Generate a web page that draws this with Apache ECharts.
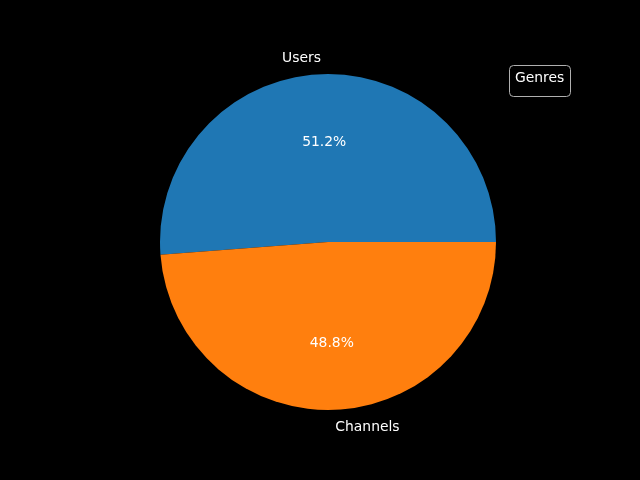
<!DOCTYPE html>
<html>
<head>
<meta charset="utf-8">
<script src="https://cdn.jsdelivr.net/npm/echarts@6/dist/echarts.min.js"></script>
<style>
html, body { margin: 0; padding: 0; background: #000; }
#myChart { width: 640px; height: 480px; }
</style>
</head>
<body>
<div id="myChart"></div>
<script>
var genres = ['Users', 'Channels'];
var counts = [512, 488];
var colors = ['#1f77b4', '#ff7f0e'];

var total = counts[0] + counts[1];
var R = 168;
var center = [328, 242];
var labelCenter = [328, 243];
var fontFam = 'DejaVu Sans';

var pieData = genres.map(function (g, i) {
    return { name: g, value: counts[i], itemStyle: { color: colors[i] } };
});

// matplotlib style: name labels left/right aligned outside the pie
var namePad = [[0, 39, 0, 0], [0, 0, 0, 65]];
var nameData = genres.map(function (g, i) {
    return {
        name: g, value: counts[i],
        itemStyle: { color: 'rgba(0,0,0,0)' },
        label: { padding: namePad[i] }
    };
});
var pctData = genres.map(function (g, i) {
    return { name: g, value: counts[i], itemStyle: { color: 'rgba(0,0,0,0)' } };
});

var myChart = echarts.init(document.getElementById('myChart'));
var option = {
    backgroundColor: '#000',
    animation: false,
    title: {
        text: 'Genres',
        left: 509, top: 65,
        padding: [5, 6, 11, 6],
        borderColor: '#b0b0b0', borderWidth: 1, borderRadius: 4,
        textStyle: { color: '#fff', fontSize: 13.9, fontWeight: 'normal', fontFamily: fontFam, lineHeight: 16 }
    },
    series: [
        {
            type: 'pie', center: center, radius: [0, R],
            startAngle: 0, clockwise: false, silent: true,
            label: { show: false }, labelLine: { show: false },
            data: pieData
        },
        {
            type: 'pie', center: labelCenter, radius: [0, R * 1.165],
            startAngle: 0, clockwise: false, silent: true, z: 3,
            label: {
                show: true, position: 'inner', color: '#fff', fontSize: 13.9, fontFamily: fontFam,
                formatter: function (p) { return (p.value / total * 100).toFixed(1) + '%'; }
            },
            labelLine: { show: false },
            data: pctData
        },
        {
            type: 'pie', center: labelCenter, radius: [0, R * 2.165],
            startAngle: 0, clockwise: false, silent: true, z: 1,
            label: {
                show: true, position: 'inner', color: '#fff', fontSize: 13.9, fontFamily: fontFam,
                formatter: '{b}'
            },
            labelLine: { show: false },
            data: nameData
        }
    ]
};
myChart.setOption(option);
</script>
</body>
</html>
